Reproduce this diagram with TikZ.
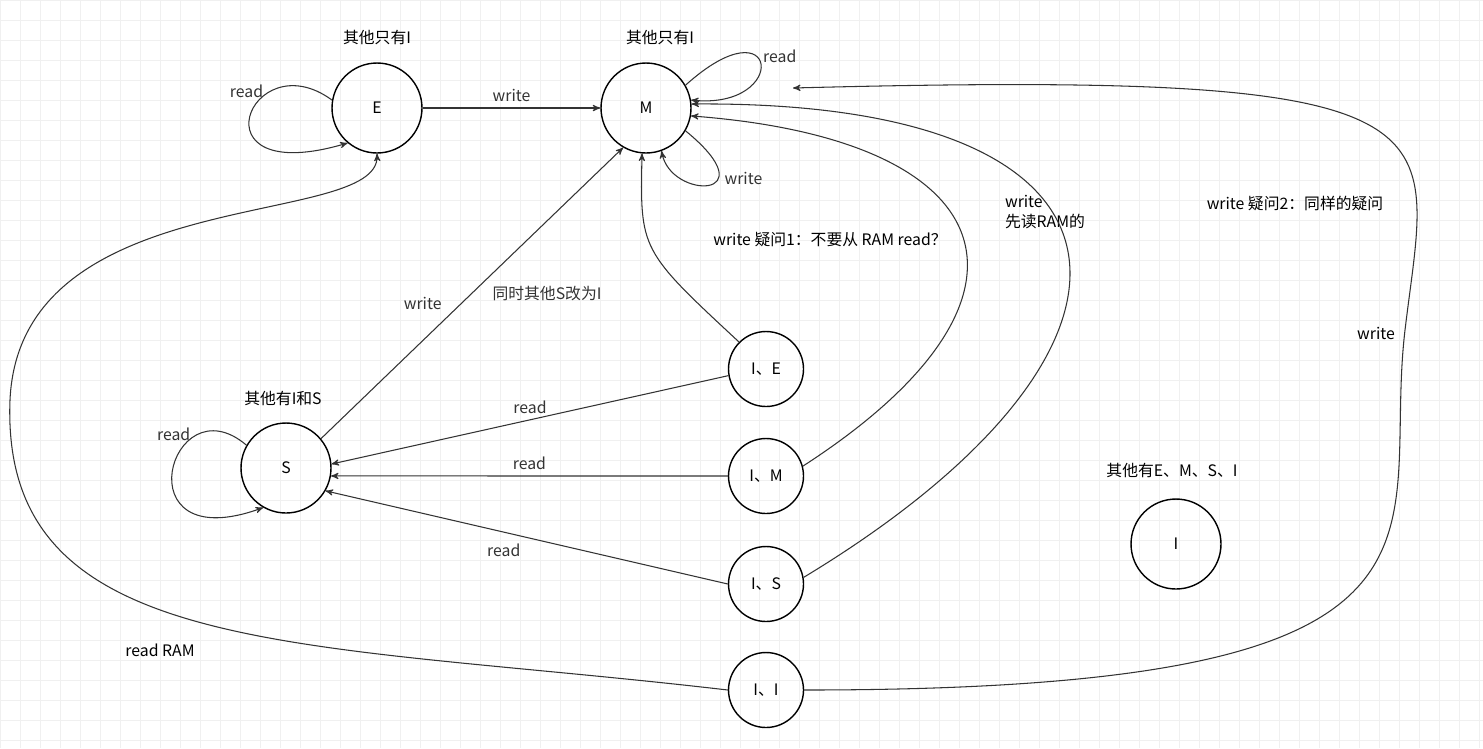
\documentclass[tikz,border=0pt]{standalone}
\usepackage{fontspec}
\setmainfont{Noto Sans CJK SC}
\usetikzlibrary{arrows,positioning}
\begin{document}
\begin{tikzpicture}[x=0.02cm, y=-0.02cm, >=stealth', font=\small]

  % Styles for states
  \tikzstyle{bigstate} = [circle, draw, thick, minimum size=1.8cm, inner sep=0pt]
  \tikzstyle{smallstate} = [circle, draw, thick, minimum size=1.5cm, inner sep=0pt]
  \tikzstyle{edge} = [->, semithick, black!80]

  % Background and grid
  \useasboundingbox (0,0) rectangle (1483,748);
  \fill[white] (0,0) rectangle (1483,748);
  \draw[black!6, step=0.4cm] (0,0) grid (1483,748);

  % States
  \node[bigstate] (E) at (377,108) {E};
  \node[bigstate] (M) at (646,108) {M};
  \node[bigstate] (S) at (286,468) {S};
  \node[bigstate] (I) at (1176,544) {I};
  \node[smallstate] (IE) at (766,369) {I、E};
  \node[smallstate] (IM) at (766,476) {I、M};
  \node[smallstate] (IS) at (766,584) {I、S};
  \node[smallstate] (II) at (766,690) {I、I};

  % State notes
  \node (nE) at (377,38) {其他只有I};
  \node (nM) at (660,38) {其他只有I};
  \node (nS) at (283,398) {其他有I和S};
  \node (nI) at (1172,470) {其他有E、M、S、I};

  % Self loops
  \draw[edge] (E.170) .. controls (250,40) and (190,190) .. (E.230) node[pos=0.3, left] {read};
  \draw[edge] (M.30) .. controls (780,0) and (790,110) .. (M.10) node[pos=0.4, right] {read};
  \draw[edge] (M.330) .. controls (770,200) and (670,200) .. (M.290) node[pos=0.35, right] {write};
  \draw[edge] (S.150) .. controls (170,380) and (120,560) .. (S.240) node[pos=0.25, left] {read};

  % Transitions
  \draw[edge] (E) -- (M) node[midway, above] {write};
  \draw[edge] (S.40) -- (M.240) node[pos=0.42, above left] {write} node[pos=0.5, right=8pt] {同时其他S改为I};
  \draw[edge] (IE.135) .. controls (640,250) .. (M.265);
  \node (q1) at (830,240) {write 疑问1：不要从 RAM read？};
  \draw[edge] (IM.15) .. controls (1060,300) and (1010,140) .. (M.350);
  \node[align=left] (q2) at (1045,212) {write\\先读RAM的};
  \draw[edge] (IS.10) .. controls (1180,350) and (1170,100) .. (M.5);
  \node (q3) at (1295,203) {write 疑问2：同样的疑问};
  \draw[edge] (II.0) .. controls (1500,690) and (1380,540) .. (1405,330)
    .. controls (1430,120) and (1480,70) .. (793,88);
  \node (w4) at (1376,333) {write};
  \draw[edge] (II.180) .. controls (300,640) and (0,660) .. (10,400)
    .. controls (20,180) and (380,230) .. (E.270);
  \node (rr) at (160,650) {read RAM};
  \draw[edge] (IE.190) -- (S.5) node[midway, above] {read};
  \draw[edge] (IM.180) -- (S.350) node[midway, above] {read};
  \draw[edge] (IS.180) -- (S.330) node[midway, below left] {read};

\end{tikzpicture}
\end{document}
